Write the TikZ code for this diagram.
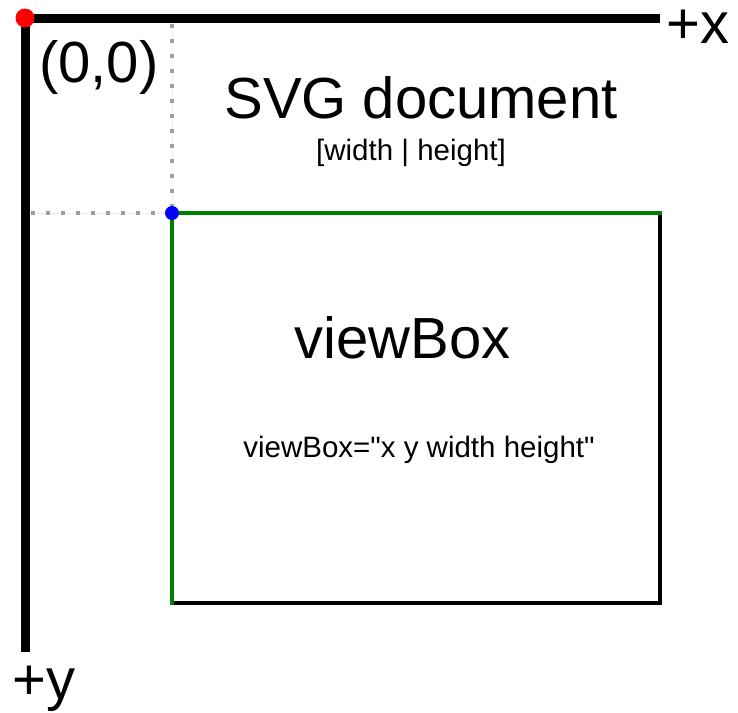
\documentclass[tikz,border=0pt]{standalone}
\usepackage{fontspec}
\setmainfont{Liberation Sans}[Ligatures=TeXOff]
\begin{document}
\begin{tikzpicture}[x=1pt,y=-1pt,
  lbl/.style={inner sep=0pt, anchor=base, text=black},
  big/.style={lbl, font=\fontsize{58}{60}\selectfont},
  small/.style={lbl, font=\fontsize{29.5}{31}\selectfont},
  axis/.style={line width=9pt, black},
  guide/.style={line width=3.5pt, draw=gray!75, dash pattern=on 4pt off 11pt, dash phase=-6pt},
  faint/.style={line width=1pt, draw=gray!15},
  boxgreen/.style={line width=4pt, draw=green!50!black},
  boxblack/.style={line width=4pt, draw=black}]
  \useasboundingbox (0,0) rectangle (738,712);
  \fill[white] (0,0) rectangle (738,712);

  % points of the coordinate system
  \coordinate (origin) at (25,18);
  \coordinate (xend) at (660,18);
  \coordinate (yend) at (25,652);
  \coordinate (vbtl) at (172,213);
  \coordinate (vbtr) at (660,213);
  \coordinate (vbbr) at (660,603);
  \coordinate (vbbl) at (172,603);
  \coordinate (vbtop) at (172,18);
  \coordinate (vbleft) at (25,213);

  % dotted guides from the axes to the viewBox corner
  \draw[faint] (vbtop) -- (vbtl) -- (vbleft);
  \draw[guide] (vbtop) -- (vbtl);
  \draw[guide] (vbleft) -- (vbtl);

  % viewBox rectangle
  \draw[boxblack] (vbtr) -- (vbbr) -- (vbbl);
  \draw[boxgreen, line cap=rect] (vbbl) -- (vbtl) -- (vbtr);

  % axes
  \draw[axis] (xend) -- (origin) -- (yend);
  \fill[red] (origin) circle (9.5);
  \fill[blue] (vbtl) circle (7);

  % labels
  \node[big, anchor=base west] (xlbl) at (666,43) {+x};
  \node[big, anchor=base west] (ylbl) at (12,699) {+y};
  \node[big, anchor=base west] (orig) at (39,82) {(0,0)};
  \node[big] (svgdoc) at (421,118) {SVG document};
  \node[small] (svgsize) at (411,160) {[width | height]};
  \node[big] (vb) at (402.5,358) {viewBox};
  \node[small] (vbattr) at (419,457) {viewBox="x y width height"};
\end{tikzpicture}
\end{document}
